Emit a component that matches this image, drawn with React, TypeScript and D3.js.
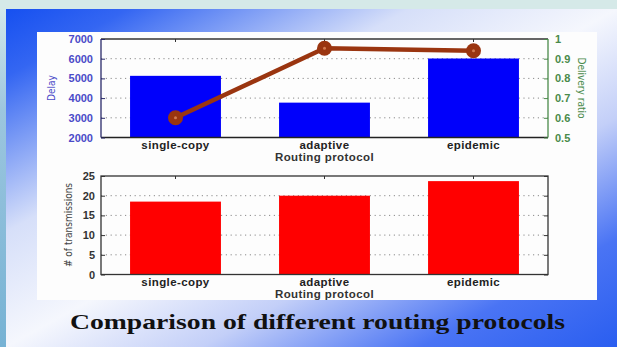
import React, { useEffect, useRef } from "react";
import * as d3 from "d3";

const protocols = ["single-copy", "adaptive", "epidemic"];
const delay = [5130, 3770, 6010];
const deliveryRatio = [0.6, 0.953, 0.94];
const transmissions = [18.5, 20, 23.7];
const delayTicks = [2000, 3000, 4000, 5000, 6000, 7000];
const ratioTicks = [0.5, 0.6, 0.7, 0.8, 0.9, 1];
const txTicks = [0, 5, 10, 15, 20, 25];
const xLabel = "Routing protocol";
const title = "Comparison of different routing protocols";

const W = 617;
const H = 347;

const App = () => {
  const svgRef = useRef<SVGSVGElement>(null);

  useEffect(() => {
    const svg = d3.select(svgRef.current);
    svg.selectAll("*").remove();

    // slide background
    const defs = svg.append("defs");
    const bg = defs.append("linearGradient").attr("id", "bg")
      .attr("x1", 0).attr("y1", 0).attr("x2", 1).attr("y2", 1);
    [[0, "#1650f0"], [0.1, "#3466f2"], [0.33, "#d6dff9"], [0.5, "#f5f7fd"],
     [0.66, "#c3cff8"], [0.84, "#4a74f4"], [1, "#2a5ef0"]]
      .forEach(([o, c]) => bg.append("stop").attr("offset", o).attr("stop-color", c));
    const side = defs.append("linearGradient").attr("id", "side")
      .attr("x1", 0).attr("y1", 0).attr("x2", 0).attr("y2", 1);
    [[0, "#d2e8ea"], [0.3, "#9cc6de"], [1, "#76b2d4"]]
      .forEach(([o, c]) => side.append("stop").attr("offset", o).attr("stop-color", c));

    svg.append("rect").attr("width", W).attr("height", H).attr("fill", "#d5e9e8");
    svg.append("rect").attr("x", 0).attr("y", 9).attr("width", 6).attr("height", H - 9)
      .attr("fill", "url(#side)");
    svg.append("rect").attr("x", 6).attr("y", 9).attr("width", W - 6).attr("height", H - 9)
      .attr("fill", "url(#bg)");
    svg.append("rect").attr("x", 37).attr("y", 32).attr("width", 560).attr("height", 268)
      .attr("fill", "#fdfdfd");

    const left = 101, right = 548;
    const x = d3.scaleBand().domain(protocols).range([left, right])
      .paddingInner(0.39).paddingOuter(0.195);

    const yDelay = d3.scaleLinear().domain([2000, 7000]).range([137.5, 39]);
    const yRatio = d3.scaleLinear().domain([0.5, 1]).range([137.5, 39]);
    const yTx = d3.scaleLinear().domain([0, 25]).range([274.5, 176]);

    const tickFont = "'Liberation Sans', Arial, sans-serif";

    const grid = (ticks: number[], y: d3.ScaleLinear<number, number>) => {
      svg.append("g").selectAll("line")
        .data(ticks.slice(1, -1)).enter().append("line")
        .attr("x1", left).attr("x2", right)
        .attr("y1", (d) => y(d)).attr("y2", (d) => y(d))
        .attr("stroke", "#8a8a8a").attr("stroke-width", 1)
        .attr("stroke-dasharray", "1.2,3.6");
    };

    const styleAxis = (g: any, color: string, size: number) => {
      g.select(".domain").remove();
      g.selectAll("line").attr("stroke", color);
      g.selectAll("text").attr("fill", color).attr("font-size", size)
        .attr("font-weight", "bold").attr("font-family", tickFont);
    };

    // ---------- top chart ----------
    grid(delayTicks, yDelay);

    svg.append("g").selectAll("rect").data(delay).enter().append("rect")
      .attr("x", (d, i) => x(protocols[i])!)
      .attr("width", x.bandwidth())
      .attr("y", (d) => yDelay(d))
      .attr("height", (d) => yDelay(2000) - yDelay(d))
      .attr("fill", "#0000fb");

    // box
    svg.append("line").attr("x1", left).attr("x2", right).attr("y1", 39).attr("y2", 39)
      .attr("stroke", "#333").attr("stroke-width", 1.3);
    svg.append("line").attr("x1", left).attr("x2", right).attr("y1", 137.5).attr("y2", 137.5)
      .attr("stroke", "#222").attr("stroke-width", 1.3);
    svg.append("line").attr("x1", left).attr("x2", left).attr("y1", 39).attr("y2", 137.5)
      .attr("stroke", "#2a2a6a").attr("stroke-width", 1.3);
    svg.append("line").attr("x1", right).attr("x2", right).attr("y1", 39).attr("y2", 137.5)
      .attr("stroke", "#4a8a4a").attr("stroke-width", 1.3);

    const gDelay = svg.append("g").attr("transform", `translate(${left},0)`)
      .call(d3.axisLeft(yDelay).tickValues(delayTicks).tickSize(-4).tickPadding(8).tickFormat(d3.format("d")));
    styleAxis(gDelay, "#4a4ac8", 11);
    gDelay.selectAll("line").attr("stroke", "#2a2a6a");

    const gRatio = svg.append("g").attr("transform", `translate(${right},0)`)
      .call(d3.axisRight(yRatio).tickValues(ratioTicks).tickSize(-4).tickPadding(7).tickFormat(d3.format("")));
    styleAxis(gRatio, "#4a8a4a", 11);

    const gTopX = svg.append("g").attr("transform", "translate(0,137.5)")
      .call(d3.axisBottom(x).tickSize(0).tickPadding(3));
    styleAxis(gTopX, "#222", 11.5);
    gTopX.selectAll("text").attr("letter-spacing", 0.4);

    // top edge category ticks
    svg.append("g").selectAll("line").data(protocols).enter().append("line")
      .attr("x1", (d) => x(d)! + x.bandwidth() / 2).attr("x2", (d) => x(d)! + x.bandwidth() / 2)
      .attr("y1", 39).attr("y2", 42).attr("stroke", "#333");

    svg.append("text").attr("x", (left + right) / 2).attr("y", 161)
      .attr("text-anchor", "middle").attr("font-size", 11.5).attr("font-weight", "bold")
      .attr("letter-spacing", 0.4).attr("font-family", tickFont).attr("fill", "#333")
      .text(xLabel);

    svg.append("text").attr("transform", "translate(55,88) rotate(-90)")
      .attr("text-anchor", "middle").attr("font-size", 10).attr("fill", "#4a4ac8")
      .attr("font-family", "'Liberation Sans Narrow', 'DejaVu Sans Condensed', sans-serif")
      .text("Delay");
    svg.append("text").attr("transform", "translate(578,88) rotate(90)")
      .attr("text-anchor", "middle").attr("font-size", 10).attr("fill", "#4a8a4a")
      .attr("font-family", "'Liberation Sans Narrow', 'DejaVu Sans Condensed', sans-serif")
      .text("Delivery ratio");

    // delivery ratio line
    const line = d3.line<number>()
      .x((d, i) => x(protocols[i])! + x.bandwidth() / 2)
      .y((d) => yRatio(d));
    svg.append("path").datum(deliveryRatio).attr("d", line)
      .attr("fill", "none").attr("stroke", "#9a3510").attr("stroke-width", 4.5)
      .attr("stroke-linejoin", "round");
    svg.append("g").selectAll("circle").data(deliveryRatio).enter().append("circle")
      .attr("cx", (d, i) => x(protocols[i])! + x.bandwidth() / 2)
      .attr("cy", (d) => yRatio(d)).attr("r", 7.5)
      .attr("fill", "#9a3510");
    svg.append("g").selectAll("circle").data(deliveryRatio).enter().append("circle")
      .attr("cx", (d, i) => x(protocols[i])! + x.bandwidth() / 2)
      .attr("cy", (d) => yRatio(d)).attr("r", 1.5)
      .attr("fill", "#d27a50");

    // ---------- bottom chart ----------
    grid(txTicks, yTx);

    svg.append("g").selectAll("rect").data(transmissions).enter().append("rect")
      .attr("x", (d, i) => x(protocols[i])!)
      .attr("width", x.bandwidth())
      .attr("y", (d) => yTx(d))
      .attr("height", (d) => yTx(0) - yTx(d))
      .attr("fill", "#ff0000");

    svg.append("rect").attr("x", left).attr("y", 176).attr("width", right - left)
      .attr("height", 274.5 - 176).attr("fill", "none").attr("stroke", "#333")
      .attr("stroke-width", 1.3);

    const gTx = svg.append("g").attr("transform", `translate(${left},0)`)
      .call(d3.axisLeft(yTx).tickValues(txTicks).tickSize(-4).tickPadding(6));
    styleAxis(gTx, "#333", 11);
    const gTxR = svg.append("g").attr("transform", `translate(${right},0)`)
      .call(d3.axisRight(yTx).tickValues(txTicks).tickSize(-4).tickFormat(() => ""));
    styleAxis(gTxR, "#333", 11);

    const gBotX = svg.append("g").attr("transform", "translate(0,274.5)")
      .call(d3.axisBottom(x).tickSize(0).tickPadding(3));
    styleAxis(gBotX, "#222", 11.5);
    gBotX.selectAll("text").attr("letter-spacing", 0.4);

    svg.append("g").selectAll("line").data(protocols).enter().append("line")
      .attr("x1", (d) => x(d)! + x.bandwidth() / 2).attr("x2", (d) => x(d)! + x.bandwidth() / 2)
      .attr("y1", 176).attr("y2", 179).attr("stroke", "#333");

    svg.append("text").attr("x", (left + right) / 2).attr("y", 298)
      .attr("text-anchor", "middle").attr("font-size", 11.5).attr("font-weight", "bold")
      .attr("letter-spacing", 0.4).attr("font-family", tickFont).attr("fill", "#333")
      .text(xLabel);

    svg.append("text").attr("transform", "translate(72,225) rotate(-90)")
      .attr("text-anchor", "middle").attr("font-size", 10).attr("fill", "#444")
      .attr("font-family", "'Liberation Sans Narrow', 'DejaVu Sans Condensed', sans-serif")
      .text("# of transmissions");

    // slide title
    svg.append("text").attr("x", 70).attr("y", 329)
      .attr("textLength", 495).attr("lengthAdjust", "spacingAndGlyphs")
      .attr("font-size", 21).attr("font-weight", "bold")
      .attr("font-family", "'Liberation Serif', 'Times New Roman', serif")
      .attr("fill", "#111").text(title);
  }, []);

  return (
    <div style={{ position: "fixed", left: 0, top: 0 }}>
      <svg ref={svgRef} width={W} height={H} style={{ display: "block" }}></svg>
    </div>
  );
};

export default App;
